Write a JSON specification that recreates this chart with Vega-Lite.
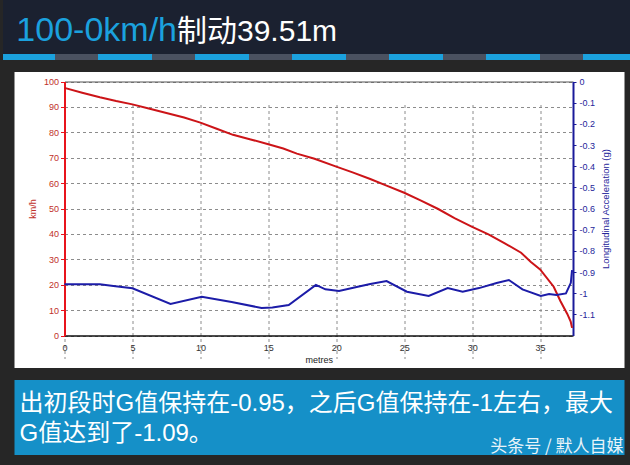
{
  "$schema": "https://vega.github.io/schema/vega-lite/v6.json",
  "background": "#262626",
  "padding": {"left": 0, "right": 0, "top": 0, "bottom": 10},
  "spacing": 12,
  "center": true,
  "config": {"view": {"stroke": null}, "font": "Liberation Sans"},
  "vconcat": [
    {
      "spacing": 0,
      "vconcat": [
        {
          "spacing": 0,
          "hconcat": [
            {
              "width": 174, "height": 54,
              "view": {"fill": "#1b2130", "stroke": null},
              "data": {"values": []},
              "mark": {"type": "rect", "opacity": 0},
              "title": {"text": "100-0km/h", "anchor": "end", "orient": "top", "offset": -75, "baseline": "alphabetic", "color": "#1ba1de", "fontSize": 34, "fontWeight": "normal", "font": "Liberation Sans, Noto Sans CJK SC"}
            },
            {
              "width": 456, "height": 54,
              "view": {"fill": "#1b2130", "stroke": null},
              "data": {"values": []},
              "mark": {"type": "rect", "opacity": 0},
              "title": {"text": "制动39.51m", "anchor": "start", "orient": "top", "offset": -71, "baseline": "alphabetic", "color": "#ffffff", "fontSize": 30, "fontWeight": "normal", "font": "Liberation Sans, Noto Sans CJK SC"}
            }
          ]
        },
        {
          "width": 630, "height": 6,
          "view": {"fill": "#4a5160", "stroke": null},
          "data": {"values": [{"stripe": "band"}]},
          "mark": {"type": "rule", "color": "#1ba1de", "strokeWidth": 6, "strokeDash": [54, 43], "strokeDashOffset": 4},
          "encoding": {"y": {"datum": 0, "type": "quantitative", "scale": {"domain": [-1, 1]}, "axis": null}}
        }
      ]
    },
    {
      "width": 610, "height": 296,
      "view": {"fill": "#ffffff", "stroke": null},
      "layer": [
        {
          "data": {"values": [
            {"m": 0, "kmh": 97.5}, {"m": 1.3, "kmh": 95.6}, {"m": 2.6, "kmh": 93.8}, {"m": 3.8, "kmh": 92.3},
            {"m": 5, "kmh": 91.0}, {"m": 6.2, "kmh": 89.4}, {"m": 7.5, "kmh": 87.6}, {"m": 8.8, "kmh": 85.8},
            {"m": 10, "kmh": 83.8}, {"m": 11.2, "kmh": 81.4}, {"m": 12.4, "kmh": 79.0}, {"m": 13.7, "kmh": 77.2},
            {"m": 15, "kmh": 75.3}, {"m": 16.1, "kmh": 73.6}, {"m": 17.1, "kmh": 71.6}, {"m": 18.4, "kmh": 69.6},
            {"m": 20, "kmh": 66.5}, {"m": 21.2, "kmh": 64.2}, {"m": 22.5, "kmh": 61.6}, {"m": 23.7, "kmh": 59.0},
            {"m": 25, "kmh": 56.2}, {"m": 26.2, "kmh": 53.2}, {"m": 27.5, "kmh": 49.8}, {"m": 28.7, "kmh": 46.2},
            {"m": 30, "kmh": 42.8}, {"m": 31.2, "kmh": 39.8}, {"m": 32.4, "kmh": 36.3}, {"m": 33.6, "kmh": 32.6},
            {"m": 34.3, "kmh": 29.0}, {"m": 35, "kmh": 26.0}, {"m": 36, "kmh": 19.2}, {"m": 36.5, "kmh": 13.5},
            {"m": 37, "kmh": 8.5}, {"m": 37.25, "kmh": 5.5}, {"m": 37.35, "kmh": 3.0}
          ]},
          "mark": {"type": "line", "color": "#cc1418", "strokeWidth": 2},
          "encoding": {
            "x": {
              "field": "m", "type": "quantitative",
              "scale": {"domain": [0, 37.42], "range": [50, 558.5], "nice": false, "zero": false},
              "axis": {"orient": "bottom", "offset": -32.5, "values": [0, 5, 10, 15, 20, 25, 30, 35], "title": "metres",
                "grid": true, "gridDash": [3, 3], "gridColor": "#8c8c8c", "gridWidth": 1,
                "domainColor": "#111111", "domainWidth": 1.5, "ticks": false, "labelPadding": 8,
                "labelFontSize": 9, "labelColor": "#333333", "labelFlush": false, "labelOverlap": false,
                "titleFontSize": 9, "titleFontWeight": "normal", "titleColor": "#222222", "titlePadding": 3}
            },
            "y": {
              "field": "kmh", "type": "quantitative",
              "scale": {"domain": [0, 100], "range": [263.5, 9.5], "nice": false},
              "axis": {"orient": "left", "offset": -50, "values": [0, 10, 20, 30, 40, 50, 60, 70, 80, 90, 100], "title": "km/h",
                "grid": true, "gridDash": [3, 3], "gridColor": "#8c8c8c", "gridWidth": 1,
                "domainColor": "#e8141c", "domainWidth": 2, "tickColor": "#e8141c", "tickSize": 4, "labelPadding": 2,
                "labelFontSize": 9, "labelColor": "#c0302a", "labelFlush": false, "labelOverlap": false,
                "titleFontSize": 9, "titleFontWeight": "normal", "titleColor": "#c0302a", "titlePadding": 6}
            }
          }
        },
        {
          "data": {"values": [
            {"m": 0, "g": -0.958}, {"m": 2.6, "g": -0.958}, {"m": 3.6, "g": -0.966}, {"m": 5.0, "g": -0.977},
            {"m": 7.8, "g": -1.051}, {"m": 10.1, "g": -1.017}, {"m": 12.3, "g": -1.042}, {"m": 14.5, "g": -1.07},
            {"m": 15.3, "g": -1.068}, {"m": 16.5, "g": -1.056}, {"m": 18.5, "g": -0.961}, {"m": 19.2, "g": -0.982},
            {"m": 20.2, "g": -0.99}, {"m": 21.5, "g": -0.971}, {"m": 22.5, "g": -0.957}, {"m": 23.7, "g": -0.943},
            {"m": 25.2, "g": -0.993}, {"m": 26.8, "g": -1.013}, {"m": 28.2, "g": -0.976}, {"m": 29.3, "g": -0.993},
            {"m": 30.5, "g": -0.976}, {"m": 31.8, "g": -0.952}, {"m": 32.7, "g": -0.938}, {"m": 33.7, "g": -0.982},
            {"m": 35.05, "g": -1.013}, {"m": 35.66, "g": -1.004}, {"m": 36.2, "g": -1.009}, {"m": 36.9, "g": -1.001},
            {"m": 37.26, "g": -0.951}, {"m": 37.35, "g": -0.891}
          ]},
          "mark": {"type": "line", "color": "#1c1ca8", "strokeWidth": 2},
          "encoding": {
            "x": {
              "field": "m", "type": "quantitative",
              "scale": {"domain": [0, 37.42], "range": [50, 558.5], "nice": false, "zero": false},
              "axis": {"orient": "top", "offset": -9.5, "labels": false, "ticks": false, "grid": false, "title": null,
                "domainColor": "#555555", "domainWidth": 1}
            },
            "y": {
              "field": "g", "type": "quantitative",
              "scale": {"domain": [-1.2, 0], "range": [263.5, 9.5], "nice": false, "zero": false},
              "axis": {"orient": "right", "offset": -51.5, "values": [0, -0.1, -0.2, -0.3, -0.4, -0.5, -0.6, -0.7, -0.8, -0.9, -1, -1.1],
                "format": ".1~f", "labelExpr": "replace(datum.label, '−', '-')", "grid": false,
                "domainColor": "#1a1a9a", "domainWidth": 2, "tickColor": "#1a1a9a", "tickSize": 3, "labelPadding": 3,
                "labelFontSize": 9, "labelColor": "#25259a", "labelFlush": false, "labelOverlap": false,
                "title": "Longitudinal Acceleration (g)", "titleColor": "#25259a", "titleFontSize": 9.5, "titleFontWeight": "normal",
                "titleAngle": 270, "titleBaseline": "top", "titlePadding": 6}
            }
          }
        }
      ],
      "resolve": {"scale": {"y": "independent"}, "axis": {"x": "independent"}}
    },
    {
      "width": 610, "height": 75,
      "view": {"fill": "#1590c8", "stroke": null},
      "data": {"values": [{"label": "头条号 / 默人自媒"}]},
      "mark": {"type": "text", "align": "right", "baseline": "bottom", "dx": -1, "dy": 1, "fontSize": 17, "color": "#ffffff", "opacity": 0.9, "font": "Noto Sans CJK SC"},
      "encoding": {
        "text": {"field": "label"},
        "x": {"value": "width"},
        "y": {"value": "height"}
      },
      "title": {"text": ["出初段时G值保持在-0.95，之后G值保持在-1左右，最大", "G值达到了-1.09。"], "anchor": "start", "orient": "top", "offset": -85, "baseline": "alphabetic", "lineHeight": 30, "dx": 5, "color": "#ffffff", "fontSize": 24, "fontWeight": "normal", "font": "Liberation Sans, Noto Sans CJK SC"}
    }
  ]
}
